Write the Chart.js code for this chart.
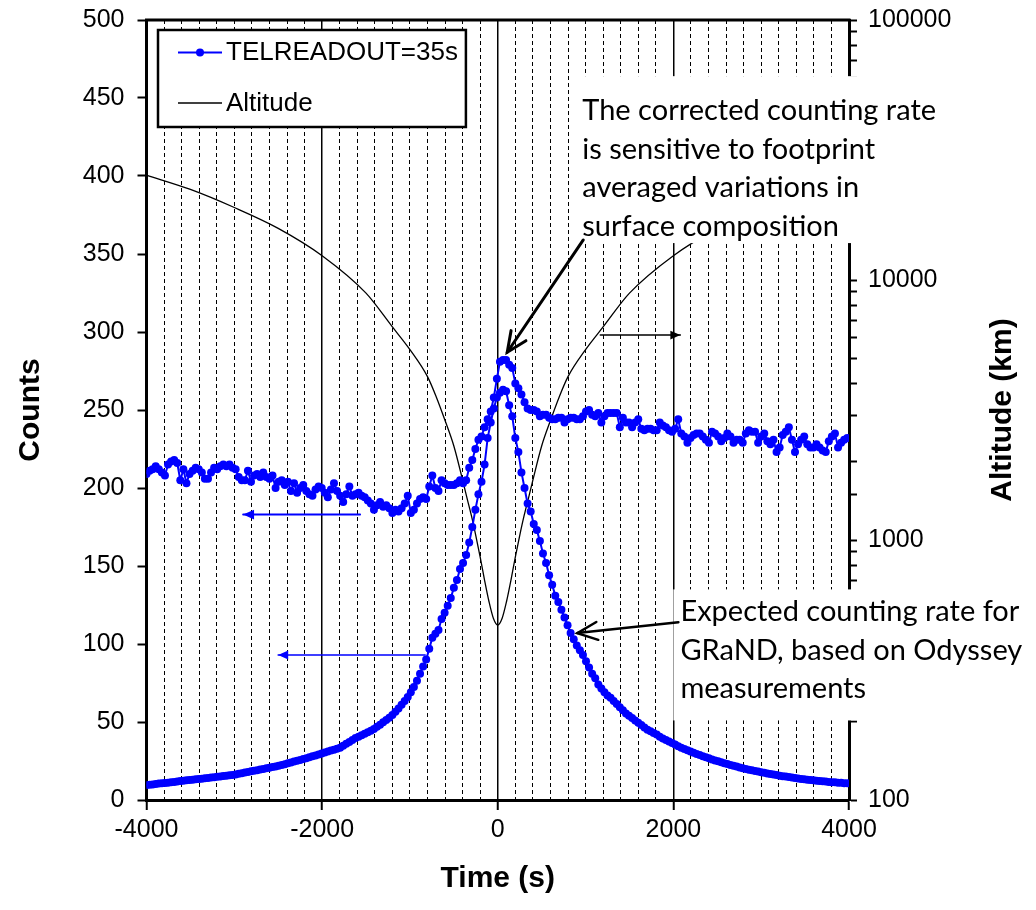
<!DOCTYPE html>
<html><head><meta charset="utf-8">
<script src="https://cdn.jsdelivr.net/npm/chart.js@4.4.0/dist/chart.umd.min.js"></script>
<style>html,body{margin:0;padding:0;background:#fff;}canvas{display:block;}</style>
</head><body>
<canvas id="c" width="1036" height="910"></canvas>
<script>
// ---- data ----
const T_START = -4000, T_STEP = 35;   // readout cadence (TELREADOUT=35s)
const correctedCounts = [
209,211,212,214,212,210,208,215,217,218,216,205,212,203,209,211,213,212,210,206,
206,210,213,212,214,215,214,215,213,212,207,205,205,211,204,208,209,207,210,207,
206,208,200,204,205,202,204,198,203,197,200,202,198,196,195,199,201,200,197,194,
199,203,198,195,191,196,201,195,196,197,195,194,192,190,186,189,191,188,189,187,
184,186,185,187,190,195,184,186,190,193,194,193,201,208,200,198,205,203,202,202,
202,203,205,203,205,213,218,225,231,233,239,244,249,258,270,281,282,282,279,277,
267,264,260,255,251,250,250,249,246,247,247,245,244,244,245,245,242,244,245,245,
244,244,246,249,250,247,246,248,242,246,248,248,248,248,239,245,242,242,239,242,
244,238,237,238,238,237,237,242,240,239,237,236,238,244,235,233,229,232,234,235,
235,233,231,229,236,235,233,230,232,235,233,229,231,231,229,235,237,236,236,229,
233,235,230,228,231,223,226,234,236,239,231,223,228,231,233,228,226,226,228,226,
224,223,230,233,235,226,229,231,232];
const expectedCounts = [
9.6,9.8,10.0,10.3,10.5,10.7,10.9,11.1,11.4,11.6,11.8,12.1,12.3,12.6,12.8,13.0,13.3,13.5,13.7,13.9,
14.1,14.4,14.6,14.9,15.1,15.4,15.6,15.9,16.1,16.4,16.8,17.2,17.6,18.0,18.4,18.7,19.1,19.5,19.9,20.3,
20.7,21.1,21.5,21.9,22.4,22.9,23.5,24.0,24.6,25.1,25.7,26.3,26.8,27.4,28.0,28.6,29.2,29.8,30.5,31.1,
31.7,32.2,32.8,33.5,34.7,36.0,37.2,38.5,39.7,40.5,41.5,42.4,43.4,44.4,45.5,47,48.3,49.8,51.3,52.8,
54.5,56.5,58.7,61,63.5,66,69,72.5,76.5,81,85.5,90,97,104,106.5,109,116,120,124.5,129.5,
136,141,148,152,157,165,175,186,196,204,215,232,242,251,258,261,263,262,253,246,
232,223,210,200,190,185,177,173,166,158,152,144,138,131,127,122,117,112,107,103,
99,96,93,89,85,81,78,74,71.5,69,67,65.5,63.5,61.5,59.5,57.5,55.5,54,52.5,51,
49.5,48,46.5,45,44,43,42,40.5,39.5,38.5,37.5,36.5,35.5,34.5,33.5,32.7,31.9,31.1,30.3,29.5,
28.8,28.1,27.4,26.7,26.0,25.4,24.8,24.2,23.6,23.0,22.4,21.9,21.4,20.9,20.4,19.9,19.4,19.0,18.6,18.2,
17.8,17.4,17.0,16.6,16.3,16.0,15.6,15.3,15.0,14.7,14.4,14.1,13.8,13.5,13.3,13.0,12.8,12.6,12.4,12.2,
12.0,11.8,11.6,11.4,11.3,11.1,11.0,10.8,10.7];
const altTimes = [-4000,-3500,-3000,-2500,-2000,-1500,-1200,-1000,-800,-700,-600,-500,-400,-350,-300,-250,-200,-150,-100,-50,0,
  50,100,150,200,250,300,350,400,500,600,700,800,1000,1200,1500,2000,2500,3000,3500,4000];
const altitudeKm = [25300,22300,19000,15800,12400,8900,6600,5400,4250,3550,2880,2300,1700,1450,1240,1040,860,700,580,500,471,
  500,580,700,860,1040,1240,1450,1700,2300,2880,3550,4250,5400,6600,8900,12400,15800,19000,22300,25300];
const xTickLabels = [-4000,-2000,0,2000,4000];
const countTicks = [0,50,100,150,200,250,300,350,400,450,500];
const altTickLabels = [100,1000,10000,100000];
const legendLabels = ['TELREADOUT=35s','Altitude'];
const note1 = ['The corrected counting rate','is sensitive to footprint','averaged variations in','surface composition'];
const note2 = ['Expected counting rate for','GRaND, based on Odyssey','measurements'];

const times = correctedCounts.map((_, i) => T_START + i * T_STEP);
const BLUE = '#0000FF';
const FONT = "'Liberation Sans', Arial, sans-serif";
const NOTE_FONT = "Lato, 'Open Sans', sans-serif";
const TICK_SIZE = 25, TITLE_SIZE = 30;

function arrow(ctx, x1, y1, x2, y2, color, w, head, filled) {
  const a = Math.atan2(y2 - y1, x2 - x1);
  ctx.save();
  ctx.strokeStyle = color; ctx.fillStyle = color; ctx.lineWidth = w; ctx.lineCap = 'round';
  ctx.beginPath(); ctx.moveTo(x1, y1); ctx.lineTo(x2, y2); ctx.stroke();
  const s = 0.42;
  const p1 = [x2 - head * Math.cos(a - s), y2 - head * Math.sin(a - s)];
  const p2 = [x2 - head * Math.cos(a + s), y2 - head * Math.sin(a + s)];
  ctx.beginPath();
  if (filled) {
    ctx.moveTo(x2, y2); ctx.lineTo(p1[0], p1[1]); ctx.lineTo(p2[0], p2[1]); ctx.closePath(); ctx.fill();
  } else {
    ctx.moveTo(p1[0], p1[1]); ctx.lineTo(x2, y2); ctx.lineTo(p2[0], p2[1]); ctx.stroke();
  }
  ctx.restore();
}

const overlay = {
  id: 'overlay',
  afterDraw(chart) {
    const ctx = chart.ctx, ca = chart.chartArea;
    const X = v => chart.scales.x.getPixelForValue(v);
    const Y = v => chart.scales.y.getPixelForValue(v);
    // top frame line
    ctx.save();
    ctx.strokeStyle = '#000'; ctx.lineWidth = 3;
    ctx.beginPath(); ctx.moveTo(ca.left - 1.5, ca.top); ctx.lineTo(ca.right + 1.5, ca.top); ctx.stroke();
    ctx.restore();

    // annotation backgrounds
    ctx.save();
    ctx.fillStyle = '#fff';
    ctx.fillRect(X(900), Y(464), 1036 - X(900), Y(357) - Y(464));
    ctx.fillRect(X(2000), Y(135), 1036 - X(2000), Y(51) - Y(135));
    ctx.fillStyle = '#000';
    ctx.font = "29px " + NOTE_FONT;
    ctx.textBaseline = 'middle'; ctx.textAlign = 'left';
    note1.forEach((s, i) => ctx.fillText(s, X(963), Y(442) + i * 38.7));
    note2.forEach((s, i) => ctx.fillText(s, X(2080), Y(120.5) + i * 38.3));
    ctx.restore();

    // arrows
    arrow(ctx, X(974), Y(359), X(108), Y(287), '#000', 3, 22, false);
    arrow(ctx, X(2057), Y(114), X(906), Y(107), '#000', 2.5, 22, false);
    arrow(ctx, X(1168), Y(298), X(2080), Y(298), '#000', 1.5, 11, true);
    arrow(ctx, X(-1567), Y(183), X(-2900), Y(183), BLUE, 1.8, 12, true);
    arrow(ctx, X(-826), Y(93), X(-2501), Y(93), BLUE, 1.5, 11, true);

    // legend
    ctx.save();
    ctx.font = "26px " + FONT;
    const tw = Math.max(...legendLabels.map(l => ctx.measureText(l).width));
    const lx = 158, ly = 30, lw = 226 - lx + tw + 8, lh = 97;
    ctx.fillStyle = '#fff'; ctx.fillRect(lx, ly, lw, lh);
    ctx.strokeStyle = '#000'; ctx.lineWidth = 2.5; ctx.strokeRect(lx, ly, lw, lh);
    const ds0 = chart.data.datasets[0], ds2 = chart.data.datasets[2];
    ctx.strokeStyle = ds0.borderColor; ctx.lineWidth = 2;
    ctx.beginPath(); ctx.moveTo(178, 52.5); ctx.lineTo(222, 52.5); ctx.stroke();
    ctx.fillStyle = ds0.backgroundColor; ctx.beginPath(); ctx.arc(200, 52.5, 4, 0, Math.PI * 2); ctx.fill();
    ctx.strokeStyle = ds2.borderColor; ctx.lineWidth = 1.5;
    ctx.beginPath(); ctx.moveTo(178, 103); ctx.lineTo(222, 103); ctx.stroke();
    ctx.fillStyle = '#000'; ctx.textBaseline = 'middle'; ctx.textAlign = 'left';
    ctx.fillText(legendLabels[0], 226, 53);
    ctx.fillText(legendLabels[1], 226, 104);
    ctx.restore();

    // right axis title (reads bottom to top)
    ctx.save();
    ctx.translate(1003, (ca.top + ca.bottom) / 2);
    ctx.rotate(-Math.PI / 2);
    ctx.font = "bold " + TITLE_SIZE + "px " + FONT; ctx.fillStyle = '#000';
    ctx.textAlign = 'center'; ctx.textBaseline = 'middle';
    ctx.fillText('Altitude (km)', 0, 0);
    ctx.restore();
  }
};

const isMajorX = c => c.tick && xTickLabels.includes(c.tick.value);

new Chart(document.getElementById('c'), {
  data: {
    datasets: [
      { type: 'line', label: legendLabels[0], data: correctedCounts.map((v, i) => ({x: times[i], y: v})),
        yAxisID: 'y', borderColor: BLUE, backgroundColor: BLUE, borderWidth: 2, pointRadius: 4,
        pointBorderWidth: 0, tension: 0 },
      { type: 'line', label: 'expected', data: expectedCounts.map((v, i) => ({x: times[i], y: v})),
        yAxisID: 'y', borderColor: BLUE, backgroundColor: BLUE, borderWidth: 2, pointRadius: 4,
        pointBorderWidth: 0, tension: 0 },
      { type: 'line', label: legendLabels[1], data: altitudeKm.map((v, i) => ({x: altTimes[i], y: v})),
        yAxisID: 'y2', borderColor: '#000', backgroundColor: '#000', borderWidth: 1.3, pointRadius: 0,
        cubicInterpolationMode: 'monotone' }
    ]
  },
  options: {
    responsive: false, animation: false, devicePixelRatio: 1,
    layout: { padding: { top: 20, left: 0, right: 0, bottom: 0 } },
    plugins: { legend: { display: false }, tooltip: { enabled: false } },
    scales: {
      x: {
        type: 'linear', min: -4000, max: 4000,
        afterFit: s => { s.height = 110; },
        ticks: { stepSize: 200, autoSkip: false, maxRotation: 0, padding: 5, color: '#000',
          font: { family: FONT, size: TICK_SIZE },
          callback: v => xTickLabels.includes(v) ? String(v) : '' },
        grid: { color: '#000', lineWidth: c => isMajorX(c) ? 1.5 : 1, tickLength: 10,
          tickColor: c => isMajorX(c) ? '#000' : 'rgba(0,0,0,0)', tickWidth: 2 },
        border: { display: true, color: '#000', width: 3, dash: c => (c.tick && !isMajorX(c)) ? [4, 3] : [] },
        title: { display: true, text: 'Time (s)', color: '#000', font: { family: FONT, size: TITLE_SIZE, weight: 'bold' },
          padding: { top: 4, bottom: 13 } }
      },
      y: {
        type: 'linear', position: 'left', min: 0, max: 500,
        afterFit: s => { s.width = 146.5; s.paddingTop = 0; s.paddingBottom = 0; },
        afterBuildTicks: s => { s.ticks = countTicks.map(v => ({value: v})); },
        ticks: { autoSkip: false, padding: 13, color: '#000', font: { family: FONT, size: TICK_SIZE } },
        grid: { drawOnChartArea: false, color: '#000', tickLength: 9, tickWidth: 2 },
        border: { display: true, color: '#000', width: 3 },
        title: { display: true, text: 'Counts', color: '#000', font: { family: FONT, size: TITLE_SIZE, weight: 'bold' },
          padding: { top: 13, bottom: 4 } }
      },
      y2: {
        type: 'logarithmic', position: 'right', min: 100, max: 100000,
        afterFit: s => { s.width = 187; s.paddingTop = 0; s.paddingBottom = 0; },
        ticks: { autoSkip: false, padding: 11, color: '#000', font: { family: FONT, size: TICK_SIZE },
          callback: v => altTickLabels.includes(v) ? String(v) : '' },
        grid: { drawOnChartArea: false, color: '#000', tickLength: 8, tickWidth: 2 },
        border: { display: true, color: '#000', width: 3 }
      }
    }
  },
  plugins: [overlay]
});
</script>
</body></html>
